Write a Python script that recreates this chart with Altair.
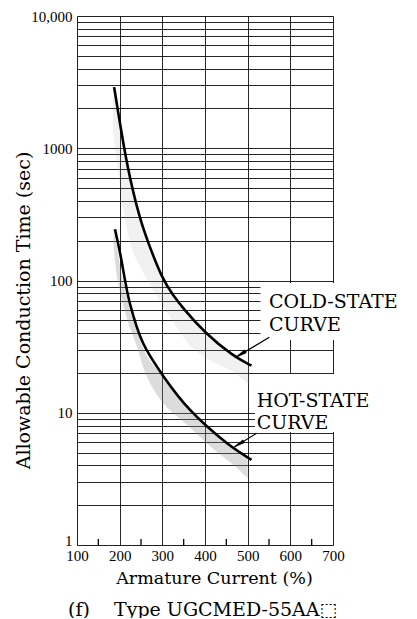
import altair as alt
import pandas as pd

# ---------------- data ----------------
x_ticks = [100, 200, 300, 400, 500, 600, 700]
x_minor = [150, 250, 350, 450, 550, 650]
y_grid = [1, 2, 3, 4, 5, 6, 7, 8, 9,
          10, 20, 30, 40, 50, 60, 70, 80, 90,
          100, 200, 300, 400, 500, 600, 700, 800, 900,
          1000, 2000, 3000, 4000, 5000, 6000, 7000, 8000, 9000, 10000]
y_labelled = [1, 10, 100, 1000, 10000]

# cold-state curve (armature current %, seconds)
cold_x = [187, 210, 229, 248, 265, 300, 326, 348, 400, 466, 509]
cold_t = [2900, 1000, 500, 290, 200, 102, 77, 62, 40, 26.8, 22.7]

# hot-state curve
hot_x = [189, 201, 224, 255, 302, 365, 451, 509]
hot_t = [244, 161, 67, 33.5, 19, 10.5, 5.9, 4.4]

# stippled scatter bands
cold_band_x = [184, 195, 210, 230, 255, 300, 335, 365, 410, 470, 505]
cold_band_lo = [1500, 700, 330, 170, 115, 65, 44, 32, 25, 20, 16]
cold_band_hi = [2600, 1900, 1000, 490, 260, 100, 70, 53, 38, 27, 23]

hot_band_x = [186, 193, 216, 240, 263, 300, 350, 390, 420, 460, 500]
hot_band_lo = [190, 110, 53, 32, 19, 12, 8.5, 6.5, 5.3, 4.2, 3.2]
hot_band_hi = [240, 180, 75, 42, 27, 19, 12, 9, 7.4, 5.6, 4.5]

# annotation labels
label_text = ["COLD-STATE", "CURVE", "HOT-STATE", "CURVE"]
label_x = [550, 550, 521, 521]
label_y = [61.6, 41.7, 11.1, 7.6]

# arrows (from label to curve)
arrow_x = [550.7, 521]
arrow_y = [37.2, 7.0]
arrow_x2 = [474.3, 470]
arrow_y2 = [26.5, 5.53]
head_x = [486, 482]
head_y = [28.0, 5.85]

# white areas behind the labels (grid is interrupted there)
mask_x = [530, 517]
mask_x2 = [720, 720]
mask_y = [35.5, 7.15]
mask_y2 = [95.8, 19.6]

caption = "(f)\u00a0\u00a0\u00a0\u00a0Type UGCMED-55AA\u2b1a"

# ---------------- tables ----------------
cold_df = pd.DataFrame({"x": cold_x, "t": cold_t})
hot_df = pd.DataFrame({"x": hot_x, "t": hot_t})
cold_band_df = pd.DataFrame({"x": cold_band_x, "lo": cold_band_lo, "hi": cold_band_hi})
hot_band_df = pd.DataFrame({"x": hot_band_x, "lo": hot_band_lo, "hi": hot_band_hi})
label_df = pd.DataFrame({"text": label_text, "x": label_x, "t": label_y})
arrow_df = pd.DataFrame({"x": arrow_x, "t": arrow_y, "x2": arrow_x2, "t2": arrow_y2})
head_df = pd.DataFrame({"x": head_x, "t": head_y})
mask_df = pd.DataFrame({"x": mask_x, "x2": mask_x2, "t": mask_y, "t2": mask_y2})
minor_df = pd.DataFrame({"x": x_minor})

SERIF = "DejaVu Serif"
NUM = "Liberation Serif"

xscale = alt.Scale(domain=[100, 700], nice=False, zero=False)
yscale = alt.Scale(type="log", domain=[1, 10000], nice=False)

xaxis = alt.Axis(
    values=x_ticks, grid=True, gridColor="#000", gridOpacity=0.85, gridWidth=1,
    ticks=False, domain=False,
    labelFont=NUM, labelFontSize=15, labelColor="black", labelPadding=3,
    labelFlush=False,
    title="Armature Current (%)", titleFont=SERIF, titleFontSize=17.5,
    titleFontWeight="normal", titleColor="black",
    titleX=137, titleY=38, titleBaseline="alphabetic", titleAlign="center",
)
label_list = ",".join(str(v) for v in y_labelled)
yaxis = alt.Axis(
    values=y_grid, grid=True, gridColor="#000", gridOpacity=0.85, gridWidth=1,
    ticks=False, domain=False,
    labelExpr=f"datum.value == 10000 ? '10,000' : (indexof([{label_list}], datum.value) >= 0 ? '' + datum.value : '')",
    labelOverlap=False, labelFont=NUM, labelFontSize=15, labelColor="black",
    labelPadding=5,
    labelBaseline={"condition": {"test": "datum.value == 1", "value": "alphabetic"},
                   "value": "middle"},
    title="Allowable Conduction Time (sec)", titleFont=SERIF, titleFontSize=19,
    titleFontWeight="normal", titleColor="black",
    titleX=-48, titleY=294, titleAngle=-90, titleBaseline="alphabetic",
    titleAlign="center",
)


def X(field="x"):
    return alt.X(f"{field}:Q", scale=xscale, axis=xaxis)


def Y(field="t"):
    return alt.Y(f"{field}:Q", scale=yscale, axis=yaxis)


mask = alt.Chart(mask_df).mark_rect(color="white").encode(
    x=X(), x2="x2:Q", y=Y(), y2="t2:Q"
)

cold_band = alt.Chart(cold_band_df).mark_area(
    color="#9a9a9a", opacity=0.14, interpolate="catmull-rom"
).encode(x=X(), y=Y("lo"), y2="hi:Q")

hot_band = alt.Chart(hot_band_df).mark_area(
    color="#8a8a8a", opacity=0.3, interpolate="catmull-rom"
).encode(x=X(), y=Y("lo"), y2="hi:Q")

cold_line = alt.Chart(cold_df).mark_line(
    color="black", strokeWidth=2.6, interpolate="basis"
).encode(x=X(), y=Y())

hot_line = alt.Chart(hot_df).mark_line(
    color="black", strokeWidth=2.6, interpolate="catmull-rom"
).encode(x=X(), y=Y())

minor = alt.Chart(minor_df).mark_rule(color="black", strokeWidth=1.3).encode(
    x=X(), y=alt.value(529), y2=alt.value(523)
)

arrows = alt.Chart(arrow_df).mark_rule(color="black", strokeWidth=1.2).encode(
    x=X(), y=Y(), x2="x2:Q", y2="t2:Q"
)

heads = alt.Chart(head_df).mark_point(
    shape="wedge", filled=True, color="black", opacity=1, size=260
).encode(x=X(), y=Y(), angle=alt.value(239))

labels = alt.Chart(label_df).mark_text(
    align="left", baseline="alphabetic", font=SERIF, fontSize=19, color="black"
).encode(x=X(), y=Y(), text="text:N")

chart = alt.layer(
    mask, cold_band, hot_band, cold_line, hot_line, minor, arrows, heads, labels
).properties(
    width=256,
    height=529,
    padding={"left": 69, "top": 8, "right": 76, "bottom": 73},
    autosize=alt.AutoSizeParams(type="none"),
    title=alt.TitleParams(
        caption, orient="bottom", anchor="start", frame="group",
        font=SERIF, fontSize=19, fontWeight="normal", color="black",
        baseline="alphabetic", offset=29, dx=-9,
    ),
).configure_view(
    stroke="black", strokeWidth=1.6
).configure(background="white")

chart.save("out.html", embed_options={"renderer": "svg", "actions": False})
